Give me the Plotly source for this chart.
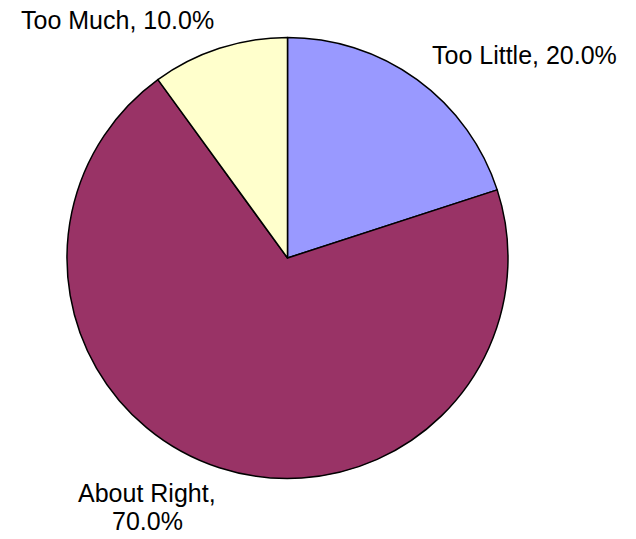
import plotly.graph_objects as go

categories = ["Too Little", "About Right", "Too Much"]
shares = [20.0, 70.0, 10.0]
colors = ["#9999FF", "#993366", "#FFFFCC"]

W, H = 636, 539

fig = go.Figure(
    go.Pie(
        labels=categories,
        values=shares,
        sort=False,
        direction="clockwise",
        rotation=0,
        marker=dict(colors=colors, line=dict(color="black", width=1.5)),
        textinfo="none",
        hoverinfo="label+percent",
        showlegend=False,
        domain=dict(x=[67 / W, 508 / W], y=[(H - 479) / H, (H - 37) / H]),
    )
)

font = dict(family="Liberation Sans, Arial, sans-serif", size=25, color="black")

# label lines: (text lines, centre x, centre y of each line)
label_pos = {
    "Too Much": (118, [20]),
    "Too Little": (524, [55]),
    "About Right": (147, [493, 521]),
}
for cat, val in zip(categories, shares):
    x, ys = label_pos[cat]
    if len(ys) == 1:
        lines = [f"{cat}, {val:.1f}%"]
    else:
        lines = [f"{cat},", f"{val:.1f}%"]
    for line, y in zip(lines, ys):
        fig.add_annotation(
            x=x / W, y=1 - y / H, xref="paper", yref="paper",
            text=line, showarrow=False, font=font,
            xanchor="center", yanchor="middle", align="center",
        )

fig.update_layout(
    width=W, height=H,
    margin=dict(l=0, r=0, t=0, b=0),
    paper_bgcolor="white", plot_bgcolor="white",
)

fig.write_html("out.html")
